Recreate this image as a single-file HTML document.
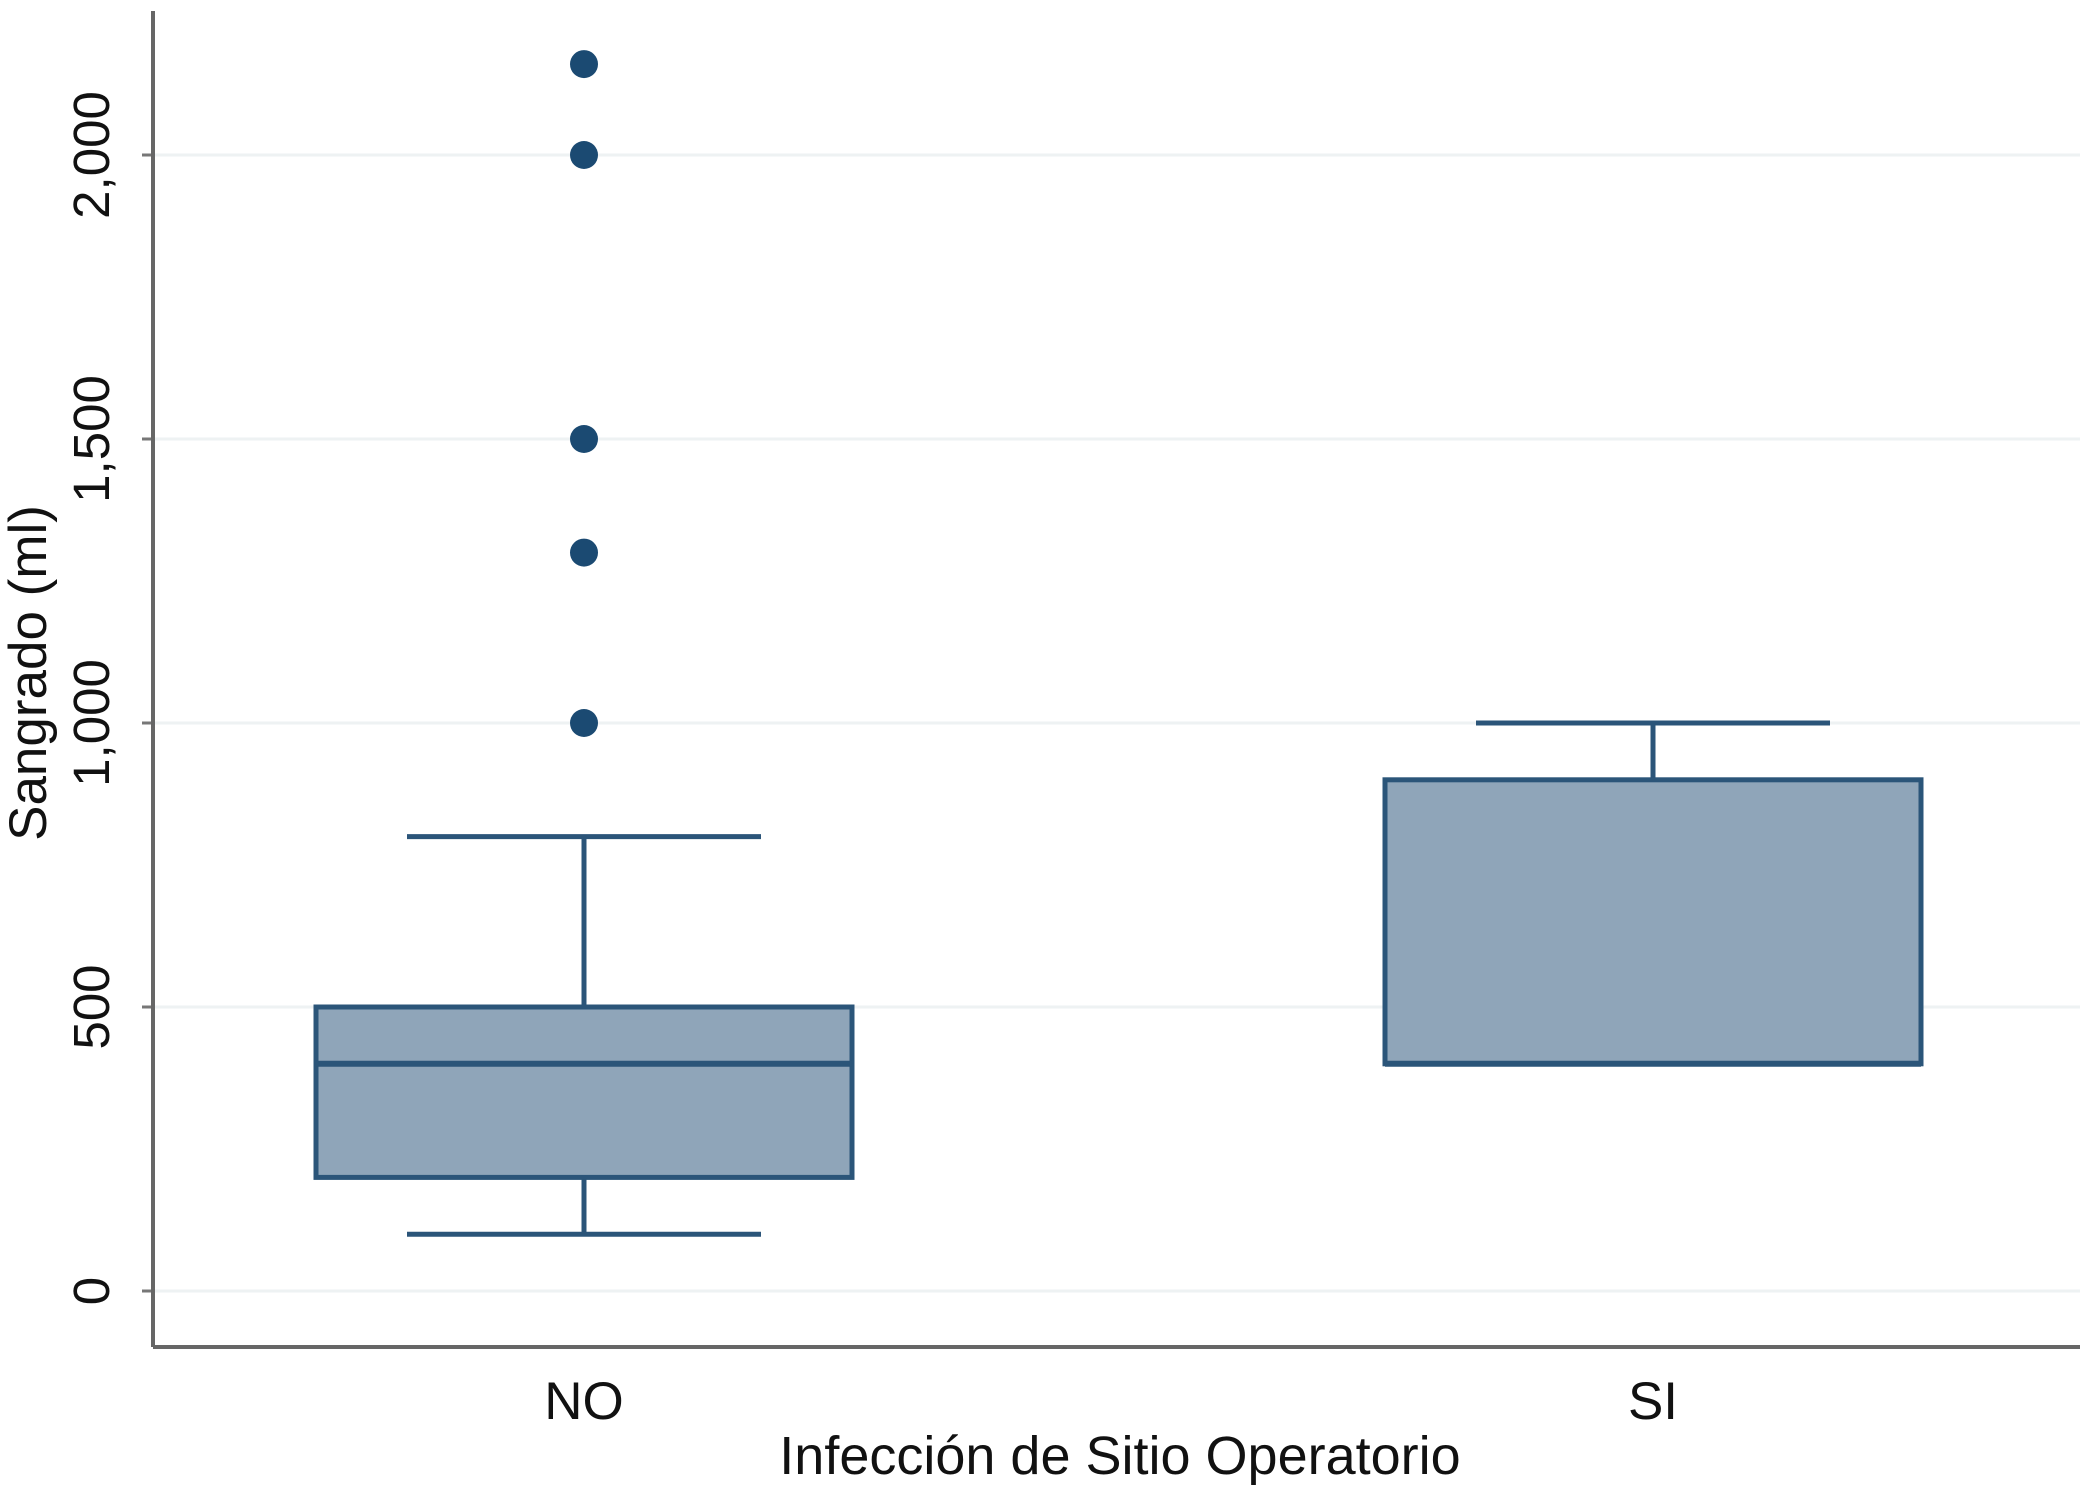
<!DOCTYPE html>
<html><head><meta charset="utf-8"><style>
html,body{margin:0;padding:0;background:#fff;}
svg{display:block;font-family:"Liberation Sans",Arial,sans-serif;}
</style></head><body>
<svg id="chart" width="2091" height="1496" viewBox="0 0 2091 1496">
<g id="grid"></g>
<g id="axes"></g>
<g id="boxes"></g>
</svg>
<script>
const categories = ["NO", "SI"];
const whiskerLow = [100, 400];
const q1 = [200, 400];
const median = [400, 400];
const q3 = [500, 900];
const whiskerHigh = [800, 1000];
const outliers = [[1000, 1300, 1500, 2000, 2160], []];
const yTicks = [0, 500, 1000, 1500, 2000];
const yTickLabels = ["0", "500", "1,000", "1,500", "2,000"];

const NS = "http://www.w3.org/2000/svg";
const svg = document.getElementById("chart");
const plot = {left:153, right:2080, top:11, bottom:1347};
const y = v => 1291 - v * (1291 - 155) / 2000;
const x = i => 584 + i * (1653 - 584);
const boxHalf = 268, capHalf = 177;
function mk(tag, attrs, parent, text){
  const e = document.createElementNS(NS, tag);
  for (const k in attrs) e.setAttribute(k, attrs[k]);
  if (text !== undefined) e.textContent = text;
  parent.appendChild(e); return e;
}
const grid = document.getElementById("grid"), axes = document.getElementById("axes"), boxes = document.getElementById("boxes");
const stroke = "#2b5579", fill = "#8fa5b9";

yTicks.forEach((t, i) => {
  const gl = mk("line", {x1:plot.left, x2:plot.right, y1:y(t), y2:y(t), stroke:"#eef2f3", "stroke-width":3}, grid);
  
  
  const tk = mk("line", {x1:plot.left-11, x2:plot.left, y1:y(t), y2:y(t), stroke:"#777", "stroke-width":3}, axes);
  
  
  const lb = mk("text", {x:0, y:0, transform:`translate(109,${y(t)}) rotate(-90)`, "text-anchor":"middle", "font-size":51, fill:"#111"}, axes, yTickLabels[i]);
  
  
});
const ya = mk("line", {x1:plot.left, x2:plot.left, y1:plot.top, y2:plot.bottom, stroke:"#666", "stroke-width":4}, axes);


const xa = mk("line", {x1:plot.left, x2:plot.right, y1:plot.bottom, y2:plot.bottom, stroke:"#666", "stroke-width":4}, axes);


const yt = mk("text", {x:0, y:0, transform:"translate(46,673) rotate(-90)", "text-anchor":"middle", "font-size":53, fill:"#111"}, axes, "Sangrado (ml)");


const xt = mk("text", {x:1120, y:1474, "text-anchor":"middle", "font-size":54, fill:"#111"}, axes, "Infección de Sitio Operatorio");



categories.forEach((c, i) => {
  const cx = x(i);
  const g = mk("g", {}, boxes);
  
  
  mk("line", {x1:cx, x2:cx, y1:y(q3[i]), y2:y(whiskerHigh[i]), stroke:stroke, "stroke-width":5}, g);
  mk("line", {x1:cx, x2:cx, y1:y(q1[i]), y2:y(whiskerLow[i]), stroke:stroke, "stroke-width":5}, g);
  mk("line", {x1:cx-capHalf, x2:cx+capHalf, y1:y(whiskerHigh[i]), y2:y(whiskerHigh[i]), stroke:stroke, "stroke-width":5}, g);
  mk("line", {x1:cx-capHalf, x2:cx+capHalf, y1:y(whiskerLow[i]), y2:y(whiskerLow[i]), stroke:stroke, "stroke-width":5}, g);
  mk("rect", {x:cx-boxHalf, y:y(q3[i]), width:2*boxHalf, height:y(q1[i])-y(q3[i]), fill:fill, stroke:stroke, "stroke-width":5}, g);
  mk("line", {x1:cx-boxHalf, x2:cx+boxHalf, y1:y(median[i]), y2:y(median[i]), stroke:stroke, "stroke-width":6}, g);
  outliers[i].forEach(v => {
    const d = mk("circle", {cx:cx, cy:y(v), r:14, fill:"#1b4a72"}, g);
    
    
  });
  const lb = mk("text", {x:cx, y:1419, "text-anchor":"middle", "font-size":53, fill:"#111"}, axes, c);
  
  
});
</script>
</body></html>
